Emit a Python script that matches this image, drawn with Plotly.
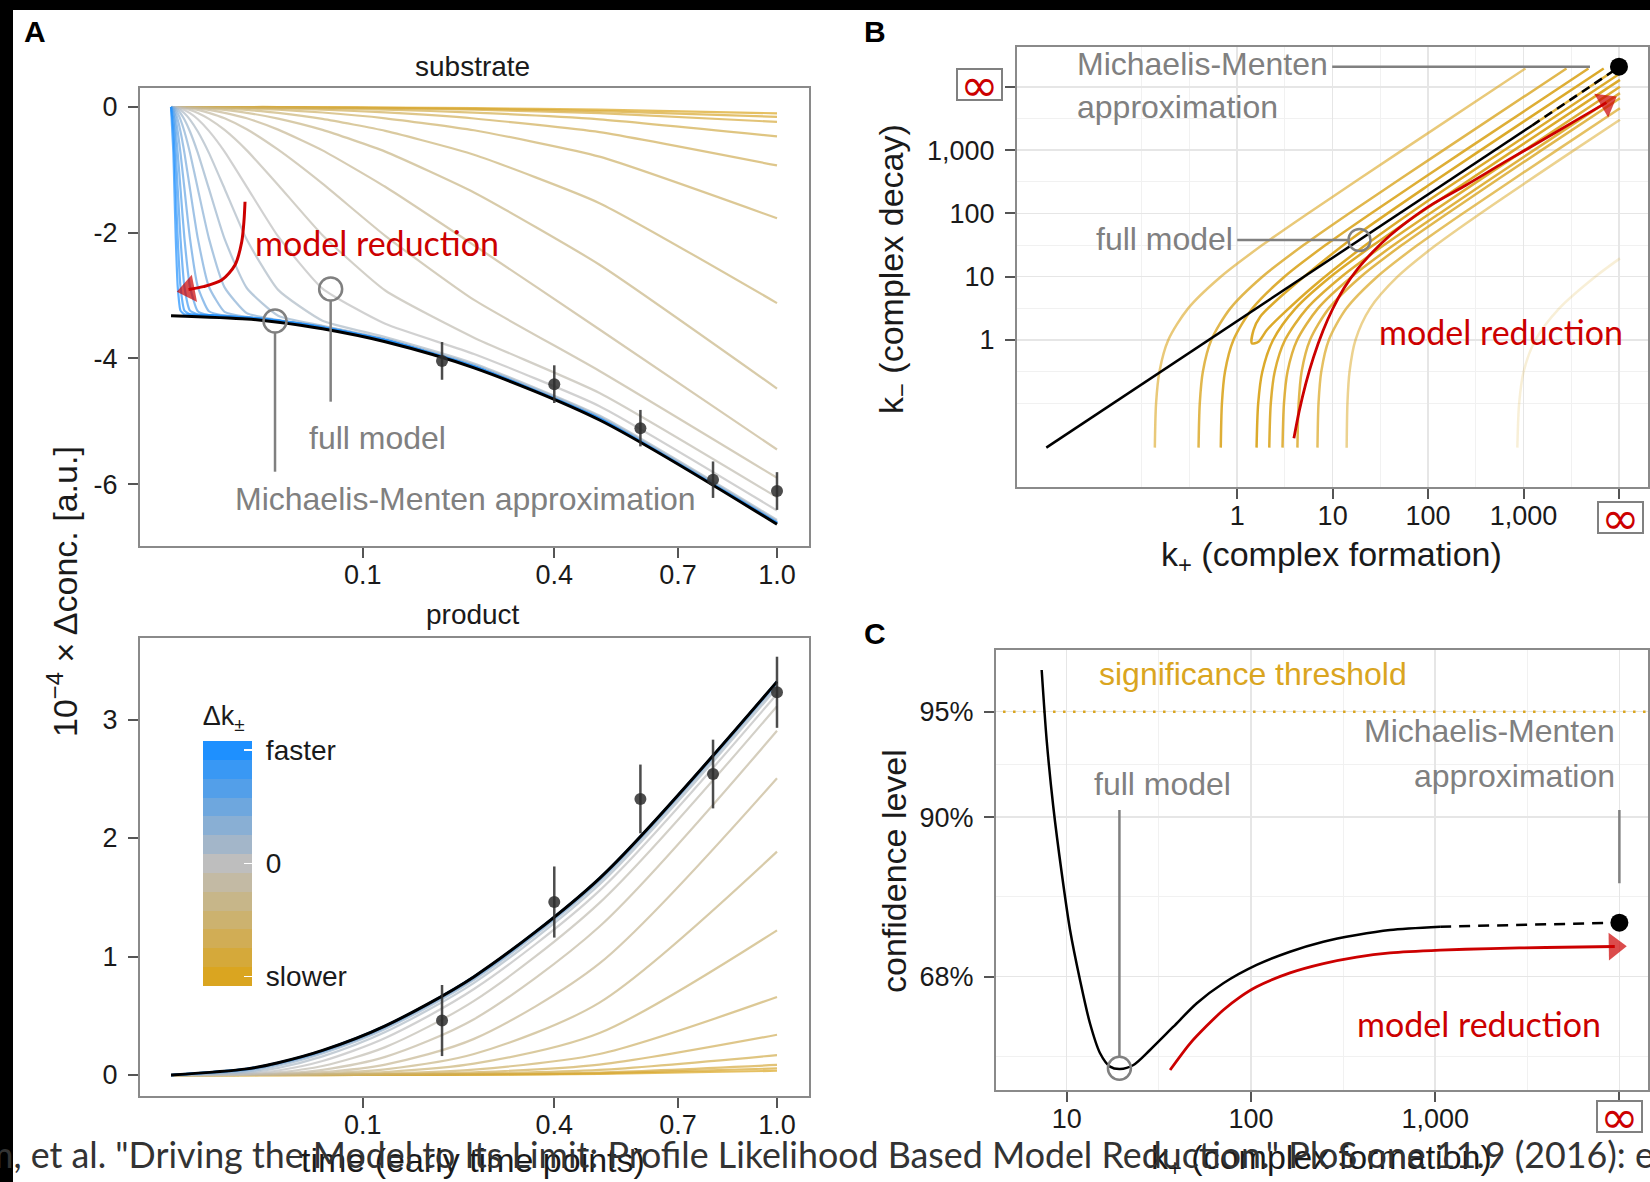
import numpy as np
import plotly.graph_objects as go

W, H = 1650, 1182
FONT = "Liberation Sans, Arial, Helvetica, sans-serif"
RED_FONT = "Lato, Liberation Sans, sans-serif"

# ======================= DATA =======================
# ---- Panel A: time courses (x axis = sqrt(time)) ----
SUB_TIME = [0, 1.526e-5, 3.052e-5, 6.104e-5, 1.221e-4, 2.441e-4, 4.883e-4, 9.766e-4,
            1.953e-3, 3.906e-3, 7.813e-3, 0.015625, 0.03125, 0.0625, 0.125, 0.25, 0.5, 1.0]
# one row per rate-constant variation, slowest (gold) -> fastest (blue)
SUB_CURVES = [
    [0, 0, 0, 0, 0, 0, 0, 0, 0, 0, 0, 0, 0, -0.004, -0.009, -0.019, -0.042, -0.101],
    [0, 0, 0, 0, 0, 0, 0, 0, 0, 0, 0, 0, -0.003, -0.007, -0.014, -0.029, -0.065, -0.156],
    [0, 0, 0, 0, 0, 0, 0, 0, 0, 0, 0, -0.002, -0.005, -0.010, -0.021, -0.044, -0.098, -0.237],
    [0, 0, 0, 0, 0, 0, 0, 0, 0, 0, -0.002, -0.005, -0.010, -0.021, -0.042, -0.089, -0.196, -0.467],
    [0, 0, 0, 0, 0, 0, 0, 0, 0, -0.003, -0.005, -0.011, -0.021, -0.043, -0.087, -0.183, -0.40, -0.93],
    [0, 0, 0, 0, 0, 0, 0, 0, -0.003, -0.005, -0.011, -0.022, -0.044, -0.088, -0.18, -0.37, -0.79, -1.77],
    [0, 0, 0, 0, 0, 0, 0, -0.003, -0.006, -0.012, -0.023, -0.047, -0.094, -0.19, -0.38, -0.76, -1.53, -3.12],
    [0, 0, 0, 0, 0, 0, -0.003, -0.006, -0.012, -0.023, -0.047, -0.093, -0.185, -0.365, -0.71, -1.36, -2.51, -4.48],
    [0, 0, 0, 0, 0, -0.003, -0.006, -0.012, -0.023, -0.047, -0.093, -0.18, -0.36, -0.69, -1.27, -2.20, -3.54, -5.45],
    [0, 0, 0, 0, -0.003, -0.006, -0.012, -0.023, -0.047, -0.093, -0.18, -0.355, -0.68, -1.22, -2.05, -3.07, -4.20, -5.90],
    [0, 0, 0, -0.003, -0.006, -0.012, -0.024, -0.048, -0.095, -0.19, -0.366, -0.69, -1.24, -2.04, -2.92, -3.67, -4.55, -6.21],
    [0, 0, -0.003, -0.006, -0.0125, -0.025, -0.05, -0.099, -0.195, -0.38, -0.71, -1.27, -2.06, -2.89, -3.45, -3.93, -4.76, -6.42],
    [0, -0.003, -0.0065, -0.013, -0.026, -0.05, -0.10, -0.20, -0.39, -0.73, -1.30, -2.11, -2.91, -3.40, -3.66, -4.08, -4.91, -6.57],
    [0, -0.0065, -0.013, -0.026, -0.05, -0.10, -0.20, -0.39, -0.73, -1.30, -2.10, -2.88, -3.32, -3.48, -3.69, -4.10, -4.93, -6.59],
    [0, -0.013, -0.026, -0.05, -0.10, -0.20, -0.39, -0.73, -1.30, -2.09, -2.87, -3.28, -3.39, -3.49, -3.70, -4.12, -4.95, -6.61],
    [0, -0.026, -0.05, -0.10, -0.20, -0.39, -0.73, -1.30, -2.09, -2.86, -3.26, -3.34, -3.40, -3.50, -3.71, -4.12, -4.95, -6.61],
    [0, -0.05, -0.10, -0.20, -0.39, -0.73, -1.30, -2.09, -2.86, -3.25, -3.32, -3.35, -3.40, -3.50, -3.71, -4.13, -4.96, -6.62],
    [0, -0.10, -0.20, -0.39, -0.73, -1.30, -2.09, -2.86, -3.25, -3.31, -3.32, -3.35, -3.40, -3.51, -3.71, -4.13, -4.96, -6.62],
    [0, -0.20, -0.39, -0.73, -1.30, -2.09, -2.86, -3.24, -3.30, -3.31, -3.33, -3.35, -3.40, -3.51, -3.71, -4.13, -4.96, -6.62],
    [0, -0.39, -0.73, -1.30, -2.09, -2.86, -3.24, -3.30, -3.31, -3.31, -3.33, -3.35, -3.40, -3.51, -3.71, -4.13, -4.96, -6.62],
    [0, -0.73, -1.30, -2.09, -2.86, -3.24, -3.30, -3.30, -3.31, -3.31, -3.33, -3.35, -3.40, -3.51, -3.71, -4.13, -4.96, -6.62],
]
PROD_TIME = [0, 0.015625, 0.03125, 0.0625, 0.125, 0.25, 0.5, 1.0]
PROD_CURVES = [
    [0, 0, 0, 0, 0.0006, 0.0023, 0.0091, 0.036],
    [0, 0, 0, 0, 0.0009, 0.0035, 0.0141, 0.056],
    [0, 0, 0, 0.0003, 0.0013, 0.0054, 0.0214, 0.085],
    [0, 0, 0.0002, 0.0007, 0.0027, 0.0109, 0.0428, 0.168],
    [0, 0.0001, 0.0004, 0.0014, 0.0057, 0.0224, 0.088, 0.34],
    [0, 0.0002, 0.0007, 0.003, 0.0117, 0.046, 0.177, 0.659],
    [0, 0.0004, 0.0016, 0.0063, 0.0249, 0.0956, 0.354, 1.221],
    [0, 0.0008, 0.0031, 0.0125, 0.0478, 0.177, 0.611, 1.885],
    [0, 0.0016, 0.0062, 0.0239, 0.0884, 0.305, 0.942, 2.505],
    [0, 0.0031, 0.012, 0.0442, 0.153, 0.471, 1.253, 2.905],
    [0, 0.006, 0.0222, 0.0763, 0.2356, 0.626, 1.4525, 3.1125],
    [0, 0.011, 0.038, 0.118, 0.313, 0.726, 1.556, 3.216],
    [0, 0.019, 0.059, 0.157, 0.363, 0.778, 1.608, 3.268],
    [0, 0.0295, 0.078, 0.182, 0.389, 0.804, 1.634, 3.294],
    [0, 0.039, 0.091, 0.1945, 0.402, 0.817, 1.647, 3.307],
    [0, 0.0455, 0.0975, 0.201, 0.4085, 0.8235, 1.653, 3.313],
    [0, 0.0488, 0.1008, 0.204, 0.412, 0.827, 1.657, 3.317],
    [0, 0.0504, 0.1024, 0.206, 0.4134, 0.829, 1.659, 3.318],
    [0, 0.0512, 0.103, 0.2067, 0.4143, 0.8298, 1.6596, 3.319],
    [0, 0.0516, 0.1036, 0.2072, 0.4148, 0.8299, 1.6598, 3.3196],
    [0, 0.0518, 0.1037, 0.2074, 0.415, 0.83, 1.66, 3.32],
]
MM_TIME = [0, 0.015625, 0.03125, 0.0625, 0.125, 0.25, 0.5, 1.0]
MM_SUB = [-3.32, -3.372, -3.424, -3.528, -3.735, -4.15, -4.98, -6.64]
MM_PROD = [0, 0.0519, 0.1038, 0.2075, 0.415, 0.83, 1.66, 3.32]
OBS_TIME = [0.2, 0.4, 0.6, 0.8, 1.0]
OBS_SUB = [-4.04, -4.41, -5.11, -5.93, -6.11]
OBS_PROD = [0.46, 1.46, 2.33, 2.54, 3.23]
OBS_ERR = [0.30, 0.30, 0.29, 0.29, 0.30]
TIME_TICKS = [0.1, 0.4, 0.7, 1.0]
TIME_TICK_TEXT = ["0.1", "0.4", "0.7", "1.0"]
SUB_TICKS = [0, -2, -4, -6]
SUB_TICK_TEXT = ["0", "-2", "-4", "-6"]
PROD_TICKS = [0, 1, 2, 3]
# panel A annotation geometry (time, value)
A_ARROW_TIME = [0.01491, 0.01452, 0.01362, 0.01115, 0.00701, 0.00284, 0.000835]
A_ARROW_VAL = [-1.507, -1.798, -2.143, -2.514, -2.753, -2.859, -2.904]
A_FULL_TIME, A_FULL_VAL = 0.0694, -2.896
A_MM_TIME, A_MM_VAL = 0.02945, -3.405
A_FULL_LEADER = [-3.087, -4.689]
A_MM_LEADER = [-3.596, -5.803]

# ---- Panel B: profile-likelihood contours (log10 k+, log10 k-) ----
B_GOLD_LOGKP = [
    [-0.863, -0.850, -0.815, -0.722, -0.514, -0.172, 0.263, 0.741, 1.731, 3.02],
    [-0.405, -0.392, -0.360, -0.271, -0.072, 0.264, 0.696, 1.171, 2.161, 3.45],
    [-0.172, -0.160, -0.128, -0.039, 0.160, 0.495, 0.926, 1.401, 2.391, 3.68],
    [3.84, 3.0, 2.0, 1.2, 0.7, 0.416, 0.241, 0.171, 0.154, 0.223, 0.311, 0.485, 0.8, 1.3, 2.0, 3.0, 4.01],
    [0.203, 0.220, 0.263, 0.376, 0.612, 0.979, 1.427, 1.908, 2.901, 4.01],
    [0.336, 0.352, 0.393, 0.501, 0.731, 1.093, 1.538, 2.019, 3.01, 4.01],
    [0.475, 0.490, 0.527, 0.628, 0.847, 1.200, 1.640, 2.120, 3.11, 4.01],
    [0.631, 0.644, 0.675, 0.763, 0.961, 1.295, 1.726, 2.202, 3.19, 4.01],
    [0.841, 0.852, 0.881, 0.960, 1.145, 1.467, 1.890, 2.363, 3.351, 4.01],
    [1.147, 1.155, 1.177, 1.239, 1.392, 1.680, 2.083, 2.548, 3.53, 4.01],
    [2.935, 2.954, 3.001, 3.124, 3.374, 3.751, 4.01],
]
B_GOLD_LOGKM = [
    [-1.7, -1.0, -0.5, 0.0, 0.5, 1.0, 1.5, 2.0, 3.0, 4.29],
    [-1.7, -1.0, -0.5, 0.0, 0.5, 1.0, 1.5, 2.0, 3.0, 4.29],
    [-1.7, -1.0, -0.5, 0.0, 0.5, 1.0, 1.5, 2.0, 3.0, 4.29],
    [4.29, 3.45, 2.44, 1.6, 1.0, 0.632, 0.368, 0.158, -0.052, -0.027, 0.158, 0.42, 0.85, 1.45, 2.2, 3.2, 4.21],
    [-1.7, -1.0, -0.5, 0.0, 0.5, 1.0, 1.5, 2.0, 3.0, 4.11],
    [-1.7, -1.0, -0.5, 0.0, 0.5, 1.0, 1.5, 2.0, 3.0, 4.0],
    [-1.7, -1.0, -0.5, 0.0, 0.5, 1.0, 1.5, 2.0, 3.0, 3.90],
    [-1.7, -1.0, -0.5, 0.0, 0.5, 1.0, 1.5, 2.0, 3.0, 3.82],
    [-1.7, -1.0, -0.5, 0.0, 0.5, 1.0, 1.5, 2.0, 3.0, 3.66],
    [-1.7, -1.0, -0.5, 0.0, 0.5, 1.0, 1.5, 2.0, 3.0, 3.48],
    [-1.7, -1.0, -0.5, 0.0, 0.5, 1.0, 1.29],
]
B_MM_LOGKP = [-2.0, 3.09]
B_MM_LOGKM = [-1.70, 3.39]
B_MM_DASH_LOGKP = [3.09, 4.0]
B_MM_DASH_LOGKM = [3.39, 4.31]
B_MM_DOT = (4.0, 4.318)
B_FULL = (1.281, 1.580)
B_RED_LOGKP = [0.594, 0.65, 0.72, 0.80, 0.90, 1.00, 1.12, 1.26, 1.42, 1.60, 1.80, 2.05, 2.40, 2.80, 3.20, 3.55, 3.868]
B_RED_LOGKM = [-1.553, -1.12, -0.68, -0.27, 0.15, 0.49, 0.82, 1.12, 1.39, 1.65, 1.89, 2.15, 2.45, 2.81, 3.16, 3.47, 3.75]
B_MM_LEADER_LOGKP = [0.995, 3.696]
B_FULL_LEADER_LOGKP = [0.0, 1.162]
B_TICKS = [1, 10, 100, 1000, 10000]
B_TICK_TEXT = ["1", "10", "100", "1,000", ""]

# ---- Panel C: profile likelihood along k+ ----
C_BLACK_LOGK = [0.864, 0.891, 0.927, 0.973, 1.018, 1.072, 1.126, 1.181, 1.235, 1.289, 1.362,
                1.452, 1.579, 1.706, 1.850, 2.031, 2.212, 2.393, 2.574, 2.755, 3.027]
C_BLACK_Q = [4.29, 3.536, 2.818, 2.102, 1.492, 0.954, 0.488, 0.165, 0.021, -0.005, 0.039,
             0.200, 0.451, 0.703, 0.918, 1.115, 1.258, 1.366, 1.438, 1.492, 1.527]
C_DASH_LOGK = [3.027, 4.0]
C_DASH_Q = [1.527, 1.570]
C_RED_LOGK = [1.561, 1.670, 1.760, 1.850, 1.940, 2.031, 2.212, 2.393, 2.574, 2.755, 3.027, 3.300, 3.600, 3.975]
C_RED_Q = [-0.015, 0.272, 0.46, 0.631, 0.77, 0.881, 1.03, 1.13, 1.20, 1.245, 1.275, 1.292, 1.303, 1.314]
C_FULL = (1.286, 0.003)
C_FULL_LEADER_Q = [0.125, 2.783]
C_MM_LEADER_Q = [1.994, 2.783]
C_CONF_Q = [0.989, 2.706, 3.841]
C_CONF_TEXT = ["68%", "90%", "95%"]
C_THRESHOLD = 3.841
C_TICKS = [10, 100, 1000, 10000]
C_TICK_TEXT = ["10", "100", "1,000", ""]

# ======================= STYLE =======================
GOLD = (218, 165, 32)
GREY = (190, 190, 190)
BLUE = (30, 144, 255)
GOLD_HEX = "#DAA520"
RED = "#CC0000"
ANN_GREY = "#808080"
AX_GREY = "#8a8a8a"
TXT = "#1a1a1a"


def mix(c1, c2, f):
    return tuple(c1[k] + f * (c2[k] - c1[k]) for k in range(3))


def curve_color(i, n, mid, alpha=0.7):
    if i <= mid:
        c = mix(GREY, GOLD, (mid - i) / mid)
    else:
        c = mix(GREY, BLUE, (i - mid) / (n - 1 - mid))
    return "rgba(%d,%d,%d,%.2f)" % (round(c[0]), round(c[1]), round(c[2]), alpha)


def px_x(x):
    return x / W


def px_y(y):
    return 1 - y / H


fig = go.Figure()


def line(x, y, ax, color, width, dash=None, shape="linear", smoothing=1.0):
    fig.add_trace(go.Scatter(x=x, y=y, mode="lines", xaxis="x" + ax, yaxis="y" + ax,
                             line=dict(color=color, width=width, dash=dash, shape=shape,
                                       smoothing=smoothing),
                             hoverinfo="skip", showlegend=False))


def marker(x, y, ax, symbol, size, color, lw=0):
    fig.add_trace(go.Scatter(x=x, y=y, mode="markers", xaxis="x" + ax, yaxis="y" + ax,
                             marker=dict(symbol=symbol, size=size, color=color,
                                         line=dict(width=lw, color=color)),
                             hoverinfo="skip", showlegend=False))


def arrow(x, y, ax, color, width, head):
    sizes = [0] * (len(x) - 1) + [head]
    fig.add_trace(go.Scatter(x=x, y=y, mode="lines+markers", xaxis="x" + ax, yaxis="y" + ax,
                             line=dict(color=color, width=width, shape="spline", smoothing=0.8),
                             marker=dict(symbol="triangle-up", size=sizes, color=color,
                                         angleref="previous", line=dict(width=0)),
                             hoverinfo="skip", showlegend=False))


NC = len(SUB_CURVES)
MID = 11

# ---------------- Panel A substrate ----------------
s_sub = np.sqrt(np.array(SUB_TIME))
for i, vals in enumerate(SUB_CURVES):
    line(s_sub, vals, "", curve_color(i, NC, MID), 2.2, shape="spline", smoothing=0.5)
line(np.sqrt(np.array(MM_TIME)), MM_SUB, "", "black", 3, shape="spline", smoothing=0.8)
fig.add_trace(go.Scatter(x=np.sqrt(np.array(OBS_TIME)), y=OBS_SUB, mode="markers", xaxis="x", yaxis="y",
                         marker=dict(size=12, color="rgba(45,45,45,0.85)"),
                         error_y=dict(type="data", array=OBS_ERR, visible=True, thickness=2.5, width=0,
                                      color="rgba(45,45,45,0.85)"),
                         hoverinfo="skip", showlegend=False))
sf = np.sqrt(A_FULL_TIME)
sm = np.sqrt(A_MM_TIME)
line([sf, sf], A_FULL_LEADER, "", ANN_GREY, 2.5)
line([sm, sm], A_MM_LEADER, "", ANN_GREY, 2.5)
marker([sf], [A_FULL_VAL], "", "circle-open", 23, ANN_GREY, 2.5)
marker([sm], [A_MM_VAL], "", "circle-open", 23, ANN_GREY, 2.5)
arrow(np.sqrt(np.array(A_ARROW_TIME)), A_ARROW_VAL, "", RED, 3, 24)

# ---------------- Panel A product ----------------
s_prod = np.sqrt(np.array(PROD_TIME))
for i, vals in enumerate(PROD_CURVES):
    line(s_prod, vals, "2", curve_color(i, NC, MID), 2.2, shape="spline", smoothing=0.8)
line(np.sqrt(np.array(MM_TIME)), MM_PROD, "2", "black", 3, shape="spline", smoothing=0.8)
fig.add_trace(go.Scatter(x=np.sqrt(np.array(OBS_TIME)), y=OBS_PROD, mode="markers", xaxis="x2", yaxis="y2",
                         marker=dict(size=12, color="rgba(45,45,45,0.85)"),
                         error_y=dict(type="data", array=OBS_ERR, visible=True, thickness=2.5, width=0,
                                      color="rgba(45,45,45,0.85)"),
                         hoverinfo="skip", showlegend=False))

# legend colour bar (13 bins)
nb = 13
cs = []
for b in range(nb):
    v = -1 + 2 * b / (nb - 1)
    c = mix(GREY, GOLD, -v) if v < 0 else mix(GREY, BLUE, v)
    col = "rgb(%d,%d,%d)" % (round(c[0]), round(c[1]), round(c[2]))
    cs.append([b / nb, col])
    cs.append([(b + 1) / nb, col])
cext = 1 + 1 / (nb - 1)
fig.add_trace(go.Scatter(
    x=[None], y=[None], mode="markers", xaxis="x2", yaxis="y2", hoverinfo="skip", showlegend=False,
    marker=dict(color=[0], colorscale=cs, cmin=-cext, cmax=cext, showscale=True,
                colorbar=dict(x=px_x(202.7), xanchor="left", y=px_y(986), yanchor="bottom",
                              len=284 / H, lenmode="fraction", thickness=49, thicknessmode="pixels",
                              xpad=0, ypad=0, outlinewidth=0,
                              tickvals=[1, 0, -1], ticktext=[" faster", " 0", " slower"],
                              ticks="inside", ticklen=8, tickcolor="white", tickwidth=1.5,
                              tickfont=dict(size=28, color=TXT, family=FONT),
                              title=dict(text="Δk<sub>±</sub>", side="top",
                                         font=dict(size=27, color=TXT, family=FONT))))))

# ---------------- Panel B ----------------
B_ALPHA = [0.6, 0.8, 0.9, 0.95, 0.95, 0.9, 0.85, 0.8, 0.7, 0.5, 0.18]
for kp, km, a in zip(B_GOLD_LOGKP, B_GOLD_LOGKM, B_ALPHA):
    line(np.power(10.0, kp), np.power(10.0, km), "3", "rgba(218,165,32,%.2f)" % a, 2.5,
         shape="spline", smoothing=0.8)
line(np.power(10.0, B_MM_DASH_LOGKP), np.power(10.0, B_MM_DASH_LOGKM), "3", "rgba(218,165,32,0.9)", 2.5)
line(np.power(10.0, B_MM_LOGKP), np.power(10.0, B_MM_LOGKM), "3", "black", 2.5)
line(np.power(10.0, B_MM_DASH_LOGKP), np.power(10.0, B_MM_DASH_LOGKM), "3", "black", 2.5, dash="9px,6px")
arrow(np.power(10.0, B_RED_LOGKP), np.power(10.0, B_RED_LOGKM), "3", RED, 2.8, 24)
line(np.power(10.0, B_MM_LEADER_LOGKP), [10 ** B_MM_DOT[1]] * 2, "3", ANN_GREY, 2.5)
line(np.power(10.0, B_FULL_LEADER_LOGKP), [10 ** B_FULL[1]] * 2, "3", ANN_GREY, 2.5)
marker([10 ** B_FULL[0]], [10 ** B_FULL[1]], "3", "circle-open", 22, ANN_GREY, 2.5)
marker([10 ** B_MM_DOT[0]], [10 ** B_MM_DOT[1]], "3", "circle", 18, "black")

# ---------------- Panel C ----------------
line([10 ** 0.6, 10 ** 4.2], [C_THRESHOLD, C_THRESHOLD], "4", GOLD_HEX, 2.5, dash="2.5px,7.5px")
line(np.power(10.0, C_BLACK_LOGK), C_BLACK_Q, "4", "black", 2.5, shape="spline", smoothing=0.8)
line(np.power(10.0, C_DASH_LOGK), C_DASH_Q, "4", "black", 2.5, dash="11px,8px")
arrow(np.power(10.0, C_RED_LOGK), C_RED_Q, "4", RED, 2.8, 24)
line([10 ** C_FULL[0]] * 2, C_FULL_LEADER_Q, "4", ANN_GREY, 2.5)
line([10 ** C_DASH_LOGK[1]] * 2, C_MM_LEADER_Q, "4", ANN_GREY, 2.5)
marker([10 ** C_FULL[0]], [C_FULL[1]], "4", "circle-open", 23, ANN_GREY, 2.5)
marker([10 ** C_DASH_LOGK[1]], [C_DASH_Q[1]], "4", "circle", 18, "black")

# ======================= AXES =======================
tickfont = dict(size=27, color=TXT, family=FONT)
common = dict(showline=True, linecolor=AX_GREY, linewidth=2, mirror=True, ticks="outside",
              ticklen=10, tickwidth=2, tickcolor="#555", tickfont=tickfont, zeroline=False,
              showgrid=False, tickmode="array")
xstand = dict(ticklabelstandoff=-6)
ystand = dict(ticklabelstandoff=5)
grid = dict(showgrid=True, gridcolor="#E6E6E6", gridwidth=1.5)
minor_grid = dict(showgrid=True, gridcolor="#F1F1F1", gridwidth=1, ticks="")

xA = [px_x(140), px_x(809)]
s_ticks = list(np.sqrt(np.array(TIME_TICKS)))
fig.update_layout(
    xaxis=dict(domain=xA, range=[-0.0512, 1.0528], tickvals=s_ticks, ticktext=TIME_TICK_TEXT,
               anchor="y", **common, **xstand),
    yaxis=dict(domain=[px_y(546), px_y(88)], range=[-6.985, 0.302], tickvals=SUB_TICKS,
               ticktext=SUB_TICK_TEXT, anchor="x", **common, **ystand),
    xaxis2=dict(domain=xA, range=[-0.0512, 1.0528], tickvals=s_ticks, ticktext=TIME_TICK_TEXT,
                anchor="y2", **common, **xstand),
    yaxis2=dict(domain=[px_y(1096), px_y(638)], range=[-0.177, 3.688], tickvals=PROD_TICKS,
                ticktext=[str(v) for v in PROD_TICKS], anchor="x2", **common, **ystand),
    xaxis3=dict(type="log", domain=[px_x(1017), px_x(1648)], range=[-2.307, 4.304],
                tickvals=B_TICKS, ticktext=B_TICK_TEXT, anchor="y3",
                minor=dict(tickmode="array", tickvals=[10 ** v for v in [-1, -0.5, 0.5, 1.5, 2.5, 3.5]],
                           **minor_grid),
                **{**common, **grid, **xstand}),
    yaxis3=dict(type="log", domain=[px_y(486.7), px_y(47.3)], range=[-2.317, 4.624],
                tickvals=B_TICKS, ticktext=B_TICK_TEXT, anchor="x3",
                minor=dict(tickmode="array", tickvals=[10 ** v for v in [-1, -0.5, 0.5, 1.5, 2.5, 3.5]],
                           **minor_grid),
                **{**common, **grid, **ystand}),
    xaxis4=dict(type="log", domain=[px_x(996), px_x(1648.3)], range=[0.616, 4.157],
                tickvals=C_TICKS, ticktext=C_TICK_TEXT, anchor="y4",
                minor=dict(tickmode="array", tickvals=[10 ** v for v in [1.5, 2.5, 3.5]], **minor_grid),
                **{**common, **grid, **xstand}),
    yaxis4=dict(domain=[px_y(1089.5), px_y(650)], range=[-0.225, 4.505],
                tickvals=C_CONF_Q, ticktext=C_CONF_TEXT, anchor="x4",
                minor=dict(tickmode="array", tickvals=[0.128, 1.848, 3.274], **minor_grid),
                **{**common, **grid, **ystand}),
)

# ======================= TEXT =======================
ann = []


def txt(text, x, y, size, color=TXT, anchor="left", family=FONT, angle=0):
    ann.append(dict(text=text, x=px_x(x), y=px_y(y), xref="paper", yref="paper", xanchor=anchor,
                    yanchor="middle", showarrow=False, textangle=angle,
                    font=dict(size=size, color=color, family=family)))


def inf_box(x, y):
    ann.append(dict(text="∞", x=px_x(x), y=px_y(y), xref="paper", yref="paper", xanchor="center",
                    yanchor="middle", showarrow=False, width=43, height=29, borderpad=0,
                    bordercolor=ANN_GREY, borderwidth=2, bgcolor="white", valign="middle",
                    font=dict(size=46, color=RED, family="DejaVu Sans")))


# panel labels
txt("<b>A</b>", 35, 31.6, 30, "black", "center")
txt("<b>B</b>", 874.5, 31.6, 30, "black", "center")
txt("<b>C</b>", 874.5, 633.5, 30, "black", "center")
# panel A
txt("substrate", 472.5, 66.1, 28, TXT, "center")
txt("product", 472.5, 614.3, 28, TXT, "center")
txt("time (early time points)", 472.5, 1160, 34, TXT, "center")
txt("10<sup>−4</sup> × Δconc. [a.u.]", 62, 592, 34, TXT, "center", angle=-90)
txt("model reduction", 253.3, 242.5, 34, RED, "left", RED_FONT)
txt("full model", 306.7, 437.9, 32, ANN_GREY)
txt("Michaelis-Menten approximation", 232.7, 498.9, 32, ANN_GREY)
# panel B
txt("k<sub>+</sub> (complex formation)", 1331, 556, 34, TXT, "center")
txt("k<sub>−</sub> (complex decay)", 893, 269, 34, TXT, "center", angle=-90)
txt("Michaelis-Menten", 1075, 63.9, 32, ANN_GREY)
txt("approximation", 1075, 107.2, 32, ANN_GREY)
txt("full model", 1093.7, 238.9, 32, ANN_GREY)
txt("model reduction", 1376.7, 331.8, 34, RED, "left", RED_FONT)
inf_box(979, 85)
inf_box(1620.5, 517)
# panel C
txt("k<sub>+</sub> (complex formation)", 1321, 1159, 34, TXT, "center")
txt("confidence level", 894, 871, 34, TXT, "center", angle=-90)
txt("significance threshold", 1096.7, 673.9, 32, GOLD_HEX)
txt("full model", 1091.7, 783.9, 32, ANN_GREY)
txt("Michaelis-Menten", 1616.7, 730.6, 32, ANN_GREY, "right")
txt("approximation", 1616.7, 775.6, 32, ANN_GREY, "right")
txt("model reduction", 1355, 1023.5, 34, RED, "left", RED_FONT)
inf_box(1619.5, 1116.4)
# citation overlay
txt('m, et al. "Driving the Model to Its Limit: Profile Likelihood Based Model Reduction." '
    'PloS one 11.9 (2016): e0162366.', -18, 1154, 35.8, "#333333", "left", "Lato, Noto Sans, sans-serif")

shapes = [
    dict(type="rect", xref="paper", yref="paper", x0=0, x1=1, y0=px_y(10), y1=1,
         fillcolor="black", line=dict(width=0), layer="above"),
    dict(type="rect", xref="paper", yref="paper", x0=0, x1=px_x(13), y0=0, y1=1,
         fillcolor="black", line=dict(width=0), layer="above"),
]

fig.update_layout(width=W, height=H, margin=dict(l=0, r=0, t=0, b=0), autosize=False,
                  paper_bgcolor="white", plot_bgcolor="white", showlegend=False,
                  hovermode=False, annotations=ann, shapes=shapes,
                  font=dict(family=FONT, color=TXT))

fig.write_html("out.html", config={"displayModeBar": False, "staticPlot": True},
               post_script="document.body.style.margin='0px';document.body.style.overflow='hidden';")
